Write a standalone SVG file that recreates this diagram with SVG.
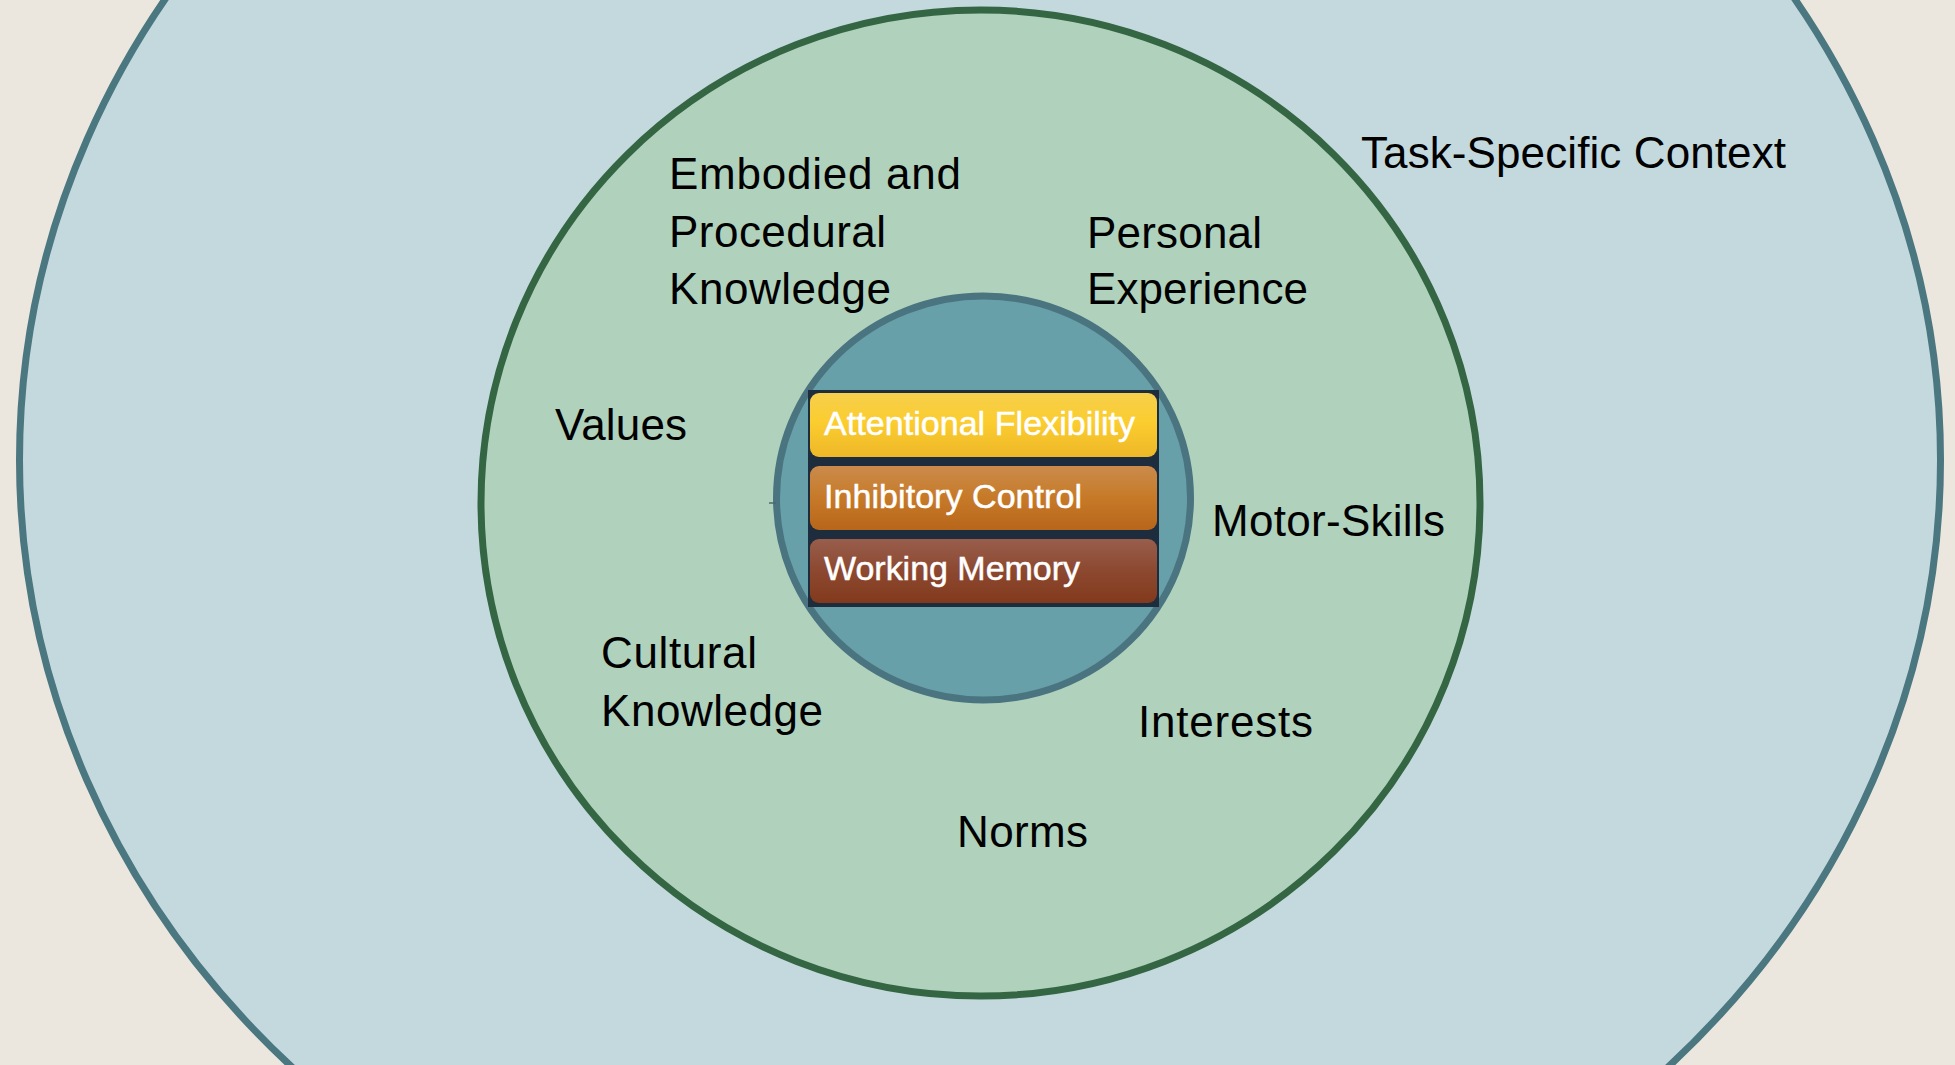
<svg xmlns="http://www.w3.org/2000/svg" width="1955" height="1065" viewBox="0 0 1955 1065">
  <defs>
    <linearGradient id="gYellow" x1="0" y1="0" x2="0" y2="1">
      <stop offset="0" stop-color="#f6cf4c"/>
      <stop offset="0.45" stop-color="#fbcd2f"/>
      <stop offset="1" stop-color="#eeb728"/>
    </linearGradient>
    <linearGradient id="gOrange" x1="0" y1="0" x2="0" y2="1">
      <stop offset="0" stop-color="#cb8b4c"/>
      <stop offset="0.5" stop-color="#c67a28"/>
      <stop offset="1" stop-color="#b8661a"/>
    </linearGradient>
    <linearGradient id="gBrown" x1="0" y1="0" x2="0" y2="1">
      <stop offset="0" stop-color="#985e4c"/>
      <stop offset="0.5" stop-color="#8c4830"/>
      <stop offset="1" stop-color="#823a1c"/>
    </linearGradient>
    <style>
      .label { font-family: "Liberation Sans", Arial, sans-serif; font-size: 44px; fill: #000000; }
      .bar-text { font-family: "Liberation Sans", Arial, sans-serif; font-size: 34px; fill: #ffffff; stroke: #ffffff; stroke-width: 0.5; }
      .ring-outer { fill: #c4d9de; stroke: #4a7780; stroke-width: 7; }
      .ring-middle { fill: #b0d2bc; stroke: #356644; stroke-width: 7; }
      .ring-inner { fill: #67a0a9; stroke: #4a7580; stroke-width: 7; }
    </style>
  </defs>

  <!-- background -->
  <rect x="0" y="0" width="1955" height="1065" fill="#ebe7de"/>

  <!-- outer ring: task-specific context -->
  <g id="task-context">
    <ellipse class="ring-outer" cx="980" cy="460" rx="960.5" ry="870"/>
    <text class="label" x="1361" y="168" textLength="425">Task-Specific Context</text>
  </g>

  <!-- middle ring: individual factors -->
  <g id="individual-factors">
    <ellipse class="ring-middle" cx="980.5" cy="503" rx="499.5" ry="493"/>
  </g>

  <g id="embodied-knowledge">
    <text class="label" x="669" y="189" textLength="292">Embodied and</text>
    <text class="label" x="669" y="247" textLength="217">Procedural</text>
    <text class="label" x="669" y="304" textLength="222">Knowledge</text>
  </g>
  <g id="personal-experience">
    <text class="label" x="1087" y="248" textLength="175">Personal</text>
    <text class="label" x="1087" y="304" textLength="221">Experience</text>
  </g>
  <g id="values">
    <text class="label" x="555" y="440" textLength="132">Values</text>
  </g>
  <g id="motor-skills">
    <text class="label" x="1212" y="536" textLength="233">Motor-Skills</text>
  </g>
  <g id="cultural-knowledge">
    <text class="label" x="601" y="668" textLength="156">Cultural</text>
    <text class="label" x="601" y="726" textLength="222">Knowledge</text>
  </g>
  <g id="interests">
    <text class="label" x="1138" y="737" textLength="175">Interests</text>
  </g>
  <g id="norms">
    <text class="label" x="957" y="847" textLength="131">Norms</text>
  </g>

  <!-- inner core: executive functions -->
  <g id="executive-functions">
    <ellipse class="ring-inner" cx="983.5" cy="498" rx="207" ry="202"/>
    <rect x="808" y="390" width="351" height="217" fill="#1d2d3d"/>
  </g>

  <g id="attentional-flexibility">
    <rect x="810" y="393" width="347" height="64" rx="9" fill="url(#gYellow)"/>
    <text class="bar-text" x="824" y="435" textLength="311">Attentional Flexibility</text>
  </g>
  <g id="inhibitory-control">
    <rect x="810" y="466" width="347" height="64" rx="9" fill="url(#gOrange)"/>
    <text class="bar-text" x="824" y="508" textLength="258">Inhibitory Control</text>
  </g>
  <g id="working-memory">
    <rect x="810" y="539" width="347" height="64" rx="9" fill="url(#gBrown)"/>
    <text class="bar-text" x="824" y="580" textLength="256">Working Memory</text>
  </g>

  <!-- connectors -->
  <g id="connectors">
    <line x1="769" y1="503" x2="776" y2="503" stroke="#4a6a70" stroke-width="1.5"/>
  </g>
</svg>
